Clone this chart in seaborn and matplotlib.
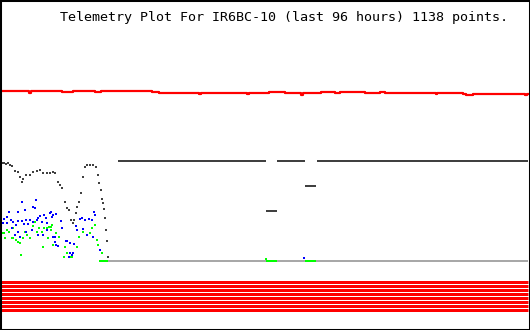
import matplotlib
matplotlib.use("Agg")
import matplotlib.pyplot as plt
import seaborn as sns
import pandas as pd

TITLE = "Telemetry Plot For IR6BC-10 (last 96 hours) 1138 points."

# red analog channel (step trace)
red_x = [0, 29, 31, 62, 73, 95, 101, 152, 159, 199, 201, 247, 249, 269, 285, 301, 303,
         321, 335, 340, 351, 360, 365, 380, 385, 402, 405, 436, 437, 463, 466, 473, 525, 527, 529]
red_y = [91, 93, 91, 92, 91, 92, 91, 92, 92.5, 94, 92.5, 94, 92.5, 91.5, 92.5, 94.5, 92.5,
         91.5, 92.5, 91.5, 92, 91.5, 92.5, 91.5, 92.5, 92.5, 92.5, 94, 92.5, 93.5, 94.5, 93.5, 95, 93.5, 93.5]

# dark gray channel: scattered samples
gray_x = [0, 2, 4, 6, 8, 10, 12, 15, 18, 20, 22, 23, 26, 30, 33, 37, 40, 43, 47, 50, 53, 55,
          58, 60, 62, 65, 67, 69, 71, 73, 74, 76, 77, 79, 81, 83, 85, 87, 90, 93, 96, 98, 99,
          101, 102, 103, 104, 105, 106, 107, 108]
gray_y = [163, 163, 163, 164, 163, 165, 166, 171, 172, 177, 182, 179, 175, 175, 172, 171, 170,
          173, 173, 173, 172, 173, 182, 185, 188, 202, 208, 210, 220, 223, 220, 213, 207, 202,
          193, 177, 167, 165, 165, 165, 167, 175, 183, 190, 199, 203, 209, 218, 230, 241, 257]
# dark gray channel: steady segments
gray_seg_y = [161, 161, 161, 211, 186]
gray_seg_x0 = [118, 277, 317, 266, 305]
gray_seg_x1 = [266, 305, 528, 277, 316]

blue_x = [1, 22, 36, 18, 25, 33, 35, 9, 7, 4, 3, 7, 11, 13, 16, 18, 22, 26, 30, 24, 28, 33, 32,
          37, 38, 40, 44, 46, 50, 52, 42, 47, 18, 15, 20, 12, 26, 38, 43, 47, 53, 55,
          51, 53, 56, 61, 62, 55, 56, 58, 66, 70, 74, 76, 80, 82, 85, 89, 92, 94, 95, 83, 77,
          70, 72, 69, 100, 87, 93, 67, 73, 304]
blue_y = [211, 202, 200, 212, 210, 207, 208, 212, 217, 219, 223, 223, 220, 222, 225, 221, 221,
          220, 220, 224, 224, 222, 230, 220, 218, 216, 215, 218, 213, 217, 222, 223, 232, 235,
          237, 228, 232, 235, 235, 230, 237, 242,
          212, 215, 214, 221, 228, 237, 245, 246, 241, 243, 244, 226, 219, 218, 220, 219, 220,
          212, 215, 229, 230, 253, 255, 257, 250, 235, 237, 241, 253, 258]

green_x = [2, 4, 7, 9, 13, 13, 16, 18, 20, 21, 23, 25, 27, 30, 33, 35, 37, 39, 42, 44, 47, 49,
           52, 43, 48, 53, 5, 12,
           51, 51, 56, 59, 65, 64, 67, 72, 77, 79, 83, 87, 90, 92, 95, 97, 98, 102, 70, 266]
green_y = [233, 233, 230, 232, 228, 238, 240, 242, 243, 255, 238, 232, 235, 238, 226, 222, 232,
           228, 232, 228, 228, 227, 225, 247, 238, 245, 238, 238,
           227, 230, 233, 237, 247, 257, 253, 257, 247, 237, 232, 235, 233, 228, 225, 240, 245,
           253, 257, 259]
green_seg_x0 = [99, 266, 305]
green_seg_x1 = [108, 277, 316]
green_seg_y = [261, 261, 261]

# light gray baseline
base_x0, base_x1, base_y = 108, 528, 261

# digital channels (8 bits, all on)
bit_y = [281.5, 285.5, 289.5, 293.5, 297.5, 301.5, 305.5, 309.5]

sns.set_style("white")
plt.rcParams["font.family"] = ["DejaVu Sans Mono", "DejaVu Sans"]

fig = plt.figure(figsize=(5.3, 3.3), dpi=100)
ax = fig.add_axes([0, 0, 1, 1])
ax.set_xlim(0, 530)
ax.set_ylim(330, 0)
ax.set_xticks([])
ax.set_yticks([])
for s in ax.spines.values():
    s.set_color("black")
    s.set_linewidth(2.2)

px = 72 / 100.0  # points per pixel

# digital bits
ax.hlines(bit_y, 1, 528, colors="#ff0000", linewidth=3 * px)

# baseline
ax.hlines([base_y], base_x0, base_x1, colors="#a8a8a8", linewidth=2 * px)
ax.hlines(green_seg_y, green_seg_x0, green_seg_x1, colors="#00ff00", linewidth=2 * px)

# red trace
red_df = pd.DataFrame({"x": red_x, "y": red_y})
sns.lineplot(data=red_df, x="x", y="y", ax=ax, color="#ff0000", linewidth=2.2 * px,
             drawstyle="steps-post", estimator=None, sort=False)

# gray steady segments
ax.hlines(gray_seg_y, gray_seg_x0, gray_seg_x1, colors="#404040", linewidth=2 * px)

msize = (2 * px) ** 2 * 1.6
sns.scatterplot(x=green_x, y=green_y, ax=ax, color="#00ff00", marker="s", s=msize, linewidth=0)
sns.scatterplot(x=blue_x, y=blue_y, ax=ax, color="#0000ff", marker="s", s=msize, linewidth=0)
sns.scatterplot(x=gray_x, y=gray_y, ax=ax, color="#404040", marker="s", s=msize, linewidth=0)

ax.set_xlabel("")
ax.set_ylabel("")
ax.text(60, 18, TITLE, fontsize=9.6, color="black", ha="left", va="center",
        family=["DejaVu Sans Mono", "DejaVu Sans"])

fig.savefig("out.png", dpi=100)
